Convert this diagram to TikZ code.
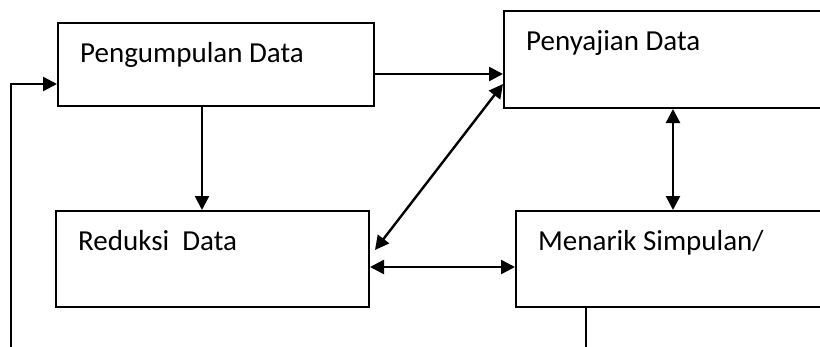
\documentclass[tikz,border=0pt]{standalone}
\usepackage{fontspec}
\setmainfont{Carlito}
\usetikzlibrary{arrows.meta,calc}
\begin{document}
\begin{tikzpicture}[x=1pt,y=-1pt,
  box/.style={draw,line width=2pt,rectangle,inner sep=0pt},
  lbl/.style={anchor=base west,inner sep=0pt,font=\fontsize{29}{33}\selectfont},
  conn/.style={line width=2.4pt},
  arr/.style={conn,-{Triangle[length=14pt,width=14pt]}},
  darr/.style={conn,{Triangle[length=14pt,width=14pt]}-{Triangle[length=14pt,width=14pt]}}]
\useasboundingbox (0,0) rectangle (820,346);
\clip (0,0) rectangle (820,346);
% boxes
\node[box,minimum width=316pt,minimum height=83pt] (b1) at (216,64.5) {};
\node[box,minimum width=346pt,minimum height=97pt] (b2) at (677,59.5) {};
\node[box,minimum width=313pt,minimum height=96pt] (b3) at (212.5,259) {};
\node[box,minimum width=334pt,minimum height=96pt] (b4) at (683,259) {};
% labels
\node[lbl] (t1) at (80,62) {Pengumpulan Data};
\node[lbl] (t2) at (526,50) {Penyajian Data};
\node[lbl] (t3) at (78,250) {Reduksi\ \ Data};
\node[lbl] (t4) at (538,250) {Menarik Simpulan/};
% connectors
\draw[arr] (b1.east |- 0,74) -- (b2.west |- 0,74);
\draw[arr] (b1.south -| 202,0) -- (b3.north -| 202,0);
\draw[darr] (b2.west |- 0,84) -- ($(b3.east |- 0,250)+(5,0)$);
\draw[darr] (b3.east |- 0,267) -- (b4.west |- 0,267);
\draw[darr] (b2.south -| 673,0) -- (b4.north -| 673,0);
\coordinate (fb) at (586,360);
\draw[arr] (b4.south -| fb) -- (fb) -| (11,84) -- (b1.west |- 0,84);
\end{tikzpicture}
\end{document}
